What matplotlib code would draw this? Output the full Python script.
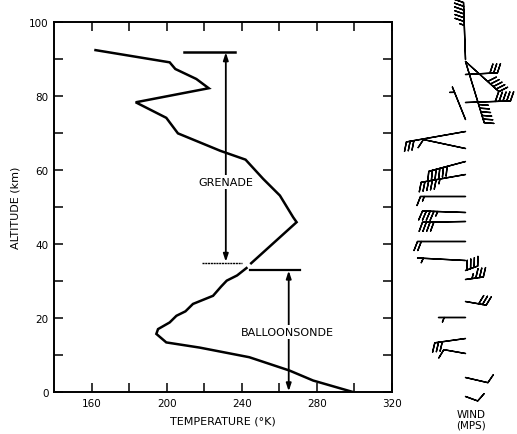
import numpy as np
import matplotlib
matplotlib.use("Agg")
import matplotlib.pyplot as plt

# ----------------------------
# Data
# ----------------------------
# grenade profile (upper part)
grenade_alt = [92.4, 89.1, 87.3, 84.6, 82.1, 78.3, 74.1, 69.9, 65.2, 62.8,
               57.6, 53.1, 47.2, 45.9, 34.8]
grenade_temp = [162.1, 201.6, 204.6, 215.8, 222.4, 183.5, 199.8, 206.0, 228.5, 242.0,
                251.4, 260.3, 267.4, 269.2, 245.0]

# balloonsonde profile (lower part)
balloon_alt = [0.1, 3.1, 5.8, 9.4, 12.0, 13.4, 15.7, 17.0, 18.8, 20.6,
               21.8, 23.8, 26.0, 28.5, 30.1, 31.5, 33.5]
balloon_temp = [298.5, 278.0, 265.4, 244.0, 217.6, 199.8, 194.5, 195.4, 201.6, 205.2,
                210.0, 214.0, 224.7, 229.0, 232.0, 237.5, 242.5]

# wind: altitude (km), direction the staff points (deg, 0 = east), speed (mps)
wind_alt = [-1.0, 4.0, 10.5, 14.5, 20.3, 24.6, 30.5, 33.0, 35.6, 40.9, 46.3, 48.6,
            53.0, 59.0, 62.5, 66.0, 70.6, 73.8, 78.3, 86.0, 89.5, 89.5, 90.0]
wind_dir = [-20, -13, 170, 188, 180, -10, 8, 20, 177, 180, 181, 178,
            180, 190, 195, 168, 190, 112, 2, 3, -73, -42, 92]
wind_speed = [10, 10, 10, 30, 5, 30, 35, 40, 5, 20, 40, 45,
              15, 55, 60, 10, 30, 5, 50, 30, 60, 50, 65]

xticks = [160, 200, 240, 280, 320]
yticks = [0, 20, 40, 60, 80, 100]

# ----------------------------
# Figure
# ----------------------------
W, H = 517, 435
fig = plt.figure(figsize=(W / 100, H / 100), dpi=100)
ax = fig.add_axes([54 / W, 42 / H, (392 - 54) / W, (393 - 23) / H])

ax.plot(grenade_temp, grenade_alt, color="black", lw=1.8, solid_joinstyle="miter")
ax.plot(balloon_temp, balloon_alt, color="black", lw=1.8, solid_joinstyle="miter")

ax.set_xlim(140, 320)
ax.set_ylim(0, 100)
ax.set_xticks(xticks)
ax.set_xticks([180, 220, 260, 300], minor=True)
ax.set_yticks(yticks)
ax.set_yticks([10, 30, 50, 70, 90], minor=True)
ax.tick_params(which="both", direction="in", length=6.5, width=1.1,
               top=True, right=True, labelsize=7.5, pad=4)
for s in ax.spines.values():
    s.set_linewidth(1.4)

ax.set_xlabel("TEMPERATURE (°K)", fontsize=8, labelpad=6)
ax.set_ylabel("ALTITUDE (km)", fontsize=8, labelpad=6)

# grenade range marker
ax.plot([209, 236.5], [92, 92], color="black", lw=1.8)
ax.plot([219, 240], [35, 35], color="black", lw=1.0, ls=(0, (1.5, 0.5)))
ax.annotate("", xy=(231.5, 91.8), xytext=(231.5, 35.2),
            arrowprops=dict(arrowstyle="<|-|>,head_length=0.45,head_width=0.15",
                            color="black", lw=1.3, shrinkA=0, shrinkB=0))
ax.text(231.5, 56.8, "GRENADE", ha="center", va="center", fontsize=8,
        bbox=dict(facecolor="white", edgecolor="none", pad=1.5), zorder=5)

# balloonsonde range marker
ax.plot([244.6, 271.2], [33, 33], color="black", lw=1.6)
ax.annotate("", xy=(265, 32.8), xytext=(265, 0.2),
            arrowprops=dict(arrowstyle="<|-|>,head_length=0.45,head_width=0.15",
                            color="black", lw=1.3, shrinkA=0, shrinkB=0))
ax.text(264.5, 16.3, "BALLOONSONDE", ha="center", va="center", fontsize=8,
        bbox=dict(facecolor="white", edgecolor="none", pad=1.5), zorder=5)

# ----------------------------
# Wind barbs column
# ----------------------------
wax = fig.add_axes([400 / W, 42 / H, 117 / W, (393 - 23) / H])
wax.set_xlim(0, 117)
wax.set_ylim(0, 100)
wax.axis("off")

station_x = 65
staff_px = [13, 23, 22, 31, 27, 21, 18, 13, 48, 48, 43, 43,
            45, 45, 38, 43, 60, 35, 45, 32, 64, 45, 57]
theta = np.deg2rad(wind_dir)
u = -np.array(wind_speed) * np.cos(theta)
v = -np.array(wind_speed) * np.sin(theta)
for i in range(len(wind_alt)):
    sp = staff_px[i]
    L = np.sqrt(2 * sp * 72 / 100)
    # barb elements keep roughly the same pixel size whatever the staff length
    sz = dict(spacing=3.8 / sp, height=min(0.7, 9.0 / sp), width=7.0 / sp)
    wax.barbs([station_x], [wind_alt[i]], [u[i]], [v[i]], length=L,
              flip_barb=True, clip_on=False, linewidth=1.0, color="black",
              sizes=sz, barb_increments=dict(half=5, full=10, flag=1000))

fig.text(471 / W, 1 - 420 / H, "WIND\n(MPS)", ha="center", va="center",
         fontsize=7.5, linespacing=1.1)

fig.savefig("out.png", dpi=100)
